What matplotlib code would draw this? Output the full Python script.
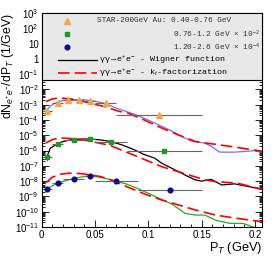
import numpy as np
import matplotlib
matplotlib.use("Agg")
import matplotlib.pyplot as plt
from matplotlib.patches import Rectangle
from matplotlib.ticker import FixedLocator, LogLocator, FuncFormatter, MultipleLocator

plt.rcParams['font.family'] = ['Liberation Sans', 'DejaVu Sans']
plt.rcParams['mathtext.fontset'] = 'custom'
plt.rcParams['mathtext.rm'] = 'Liberation Sans'
plt.rcParams['mathtext.it'] = 'Liberation Sans:italic'
plt.rcParams['mathtext.bf'] = 'Liberation Sans:bold'

# STAR data points, three mass bins (scaled by 1, 1e-2, 1e-4)
pt_lo = [0.005, 0.015, 0.025, 0.035, 0.045, 0.06, 0.11]
pt_lo_err = [0.005, 0.005, 0.005, 0.005, 0.005, 0.01, 0.04]
dn_lo = [4.0e-4, 1.25e-3, 2.0e-3, 2.0e-3, 1.75e-3, 1.4e-3, 2.1e-4]
rel_lo = [0.3, 0.15, 0.1, 0.1, 0.1, 0.12, 0.3]

pt_mid = [0.005, 0.015, 0.03, 0.045, 0.065, 0.115]
pt_mid_err = [0.005, 0.005, 0.01, 0.005, 0.015, 0.035]
dn_mid = [4.0e-7, 2.5e-6, 4.7e-6, 5.8e-6, 3.9e-6, 1.0e-6]
rel_mid = [0.45, 0.15, 0.1, 0.1, 0.12, 0.3]

pt_hi = [0.005, 0.015, 0.03, 0.045, 0.07, 0.12]
pt_hi_err = [0.005, 0.005, 0.01, 0.005, 0.02, 0.03]
dn_hi = [3.1e-9, 7.2e-9, 1.45e-8, 2.3e-8, 1.05e-8, 2.6e-9]
rel_hi = [0.3, 0.2, 0.1, 0.15, 0.15, 0.4]

# Wigner function curves (solid)
wig_lo_x = [0.004, 0.008, 0.012, 0.016, 0.022, 0.030, 0.040, 0.050, 0.060, 0.069, 0.080,
            0.0875, 0.100, 0.1125, 0.122, 0.131, 0.141, 0.153, 0.159, 0.167, 0.181, 0.192,
            0.200, 0.207]
wig_lo_y = [3.9e-4, 8.0e-4, 1.2e-3, 1.6e-3, 2.0e-3, 2.15e-3, 2.1e-3, 1.7e-3, 1.2e-3,
            6.3e-4, 3.5e-4, 2.3e-4, 1.0e-4, 3.9e-5, 1.9e-5, 8.5e-6, 4.0e-6, 3.1e-6, 1.9e-6,
            7.9e-7, 7.9e-7, 8.9e-7, 1.0e-6, 7.6e-7]

wig_mid_x = [0.005, 0.008, 0.0156, 0.022, 0.028, 0.035, 0.045, 0.055, 0.064, 0.075, 0.086,
             0.096, 0.106, 0.1125, 0.125, 0.135, 0.144, 0.150, 0.159, 0.169, 0.181, 0.194,
             0.207]
wig_mid_y = [4.0e-7, 1.4e-6, 3.1e-6, 4.2e-6, 5.1e-6, 5.6e-6, 5.75e-6, 5.0e-6, 4.0e-6,
             2.4e-6, 1.2e-6, 5.6e-7, 3.2e-7, 1.5e-7, 5.5e-8, 2.4e-8, 1.2e-8, 1.0e-8, 1.3e-8,
             5.6e-9, 6.6e-9, 4.4e-9, 2.95e-9]

wig_hi_x = [0.005, 0.010, 0.015, 0.022, 0.030, 0.038, 0.045, 0.055, 0.070, 0.080, 0.089,
            0.100, 0.110, 0.122, 0.1345, 0.144, 0.153, 0.163, 0.177, 0.189, 0.198, 0.203]
wig_hi_y = [3.1e-9, 5.0e-9, 7.2e-9, 1.05e-8, 1.45e-8, 1.9e-8, 2.2e-8, 1.8e-8, 1.0e-8,
            6.3e-9, 3.5e-9, 1.6e-9, 7.6e-10, 3.2e-10, 7.8e-11, 6.0e-11, 6.0e-11, 2.8e-11,
            1.7e-11, 1.7e-11, 1.0e-11, 8.0e-12]

# kt-factorization curves (red dashed)
kt_lo_x = [0.004, 0.010, 0.016, 0.022, 0.028, 0.035, 0.043, 0.050, 0.059, 0.072, 0.081,
           0.097, 0.1125, 0.128, 0.144, 0.152, 0.159, 0.170, 0.181, 0.195, 0.207]
kt_lo_y = [1.6e-3, 2.4e-3, 2.75e-3, 2.6e-3, 2.35e-3, 1.9e-3, 1.4e-3, 1.05e-3, 7.6e-4,
           3.8e-4, 2.8e-4, 9.5e-5, 3.0e-5, 1.07e-5, 4.0e-6, 3.2e-6, 2.8e-6, 2.2e-6, 1.7e-6,
           1.2e-6, 9.1e-7]

kt_mid_x = [0.004, 0.010, 0.017, 0.025, 0.039, 0.050, 0.064, 0.081, 0.097, 0.1125, 0.1376,
            0.153, 0.163, 0.173, 0.184, 0.196, 0.207]
kt_mid_y = [3.1e-6, 5.2e-6, 6.6e-6, 6.3e-6, 5.1e-6, 3.5e-6, 2.2e-6, 7.2e-7, 2.5e-7, 8.9e-8,
            2.6e-8, 1.2e-8, 9.3e-9, 8.3e-9, 7.2e-9, 4.5e-9, 2.8e-9]

kt_hi_x = [0.004, 0.010, 0.017, 0.025, 0.035, 0.045, 0.055, 0.064, 0.081, 0.097, 0.1125,
           0.128, 0.144, 0.163, 0.185, 0.207]
kt_hi_y = [7.9e-9, 1.8e-8, 2.8e-8, 3.3e-8, 3.2e-8, 2.6e-8, 2.0e-8, 1.3e-8, 4.0e-9, 1.4e-9,
           5.8e-10, 2.8e-10, 1.3e-10, 6.0e-11, 3.5e-11, 2.2e-11]

x_ticks = [0, 0.05, 0.1, 0.15, 0.2]
x_tick_labels = ["0", "0.05", "0.1", "0.15", "0.2"]

c_orange = "#f7a548"
c_green_pt = "#1e9a1e"
c_navy = "#0c0c8c"
c_wig_lo = "#7272f2"
c_wig_hi = "#22aa22"
c_red = "#ff0000"
c_bar = "#666666"


def log_label(v, pos):
    e = int(round(np.log10(v)))
    if e == 0:
        return "1"
    if e == 1:
        return "10"
    return r"$\mathregular{10^{%d}}$" % e


fig = plt.figure(figsize=(2.76, 2.67), dpi=100)
ax = fig.add_axes([0.151, 0.150, 0.798, 0.801])
ax.set_yscale("log")
ax.set_xlim(0, 0.2066)
ax.set_ylim(1e-11, 1e3)

dash = (0, (7, 3))
ax.plot(wig_lo_x, wig_lo_y, color=c_wig_lo, lw=0.9, zorder=2)
ax.plot(wig_mid_x, wig_mid_y, color="black", lw=0.9, zorder=2)
ax.plot(wig_hi_x, wig_hi_y, color=c_wig_hi, lw=0.9, zorder=2)
ax.plot(kt_lo_x, kt_lo_y, color=c_red, lw=1.2, ls=dash, zorder=2)
ax.plot(kt_mid_x, kt_mid_y, color=c_red, lw=1.2, ls=dash, zorder=2)
ax.plot(kt_hi_x, kt_hi_y, color=c_red, lw=1.2, ls=dash, zorder=2)

for xs, xe, ys, rel, col, mk, ms in [
        (pt_lo, pt_lo_err, dn_lo, rel_lo, c_orange, "^", 4.5),
        (pt_mid, pt_mid_err, dn_mid, rel_mid, c_green_pt, "s", 2.8),
        (pt_hi, pt_hi_err, dn_hi, rel_hi, c_navy, "o", 3.4)]:
    ys = np.array(ys)
    ye = ys * np.array(rel)
    ax.errorbar(xs, ys, xerr=xe, yerr=ye, fmt="none", ecolor=c_bar, elinewidth=0.8,
                capsize=0, zorder=2.2)
    ax.plot(xs, ys, ls="none", marker=mk, ms=ms, color=col, mec=col, zorder=3)

ax.xaxis.set_major_locator(FixedLocator(x_ticks))
ax.set_xticklabels(x_tick_labels)
ax.xaxis.set_minor_locator(MultipleLocator(0.01))
ax.yaxis.set_major_locator(LogLocator(base=10, numticks=20))
ax.yaxis.set_minor_locator(LogLocator(base=10, subs=np.arange(2, 10), numticks=20))
ax.yaxis.set_major_formatter(FuncFormatter(log_label))
ax.yaxis.set_minor_formatter(FuncFormatter(lambda v, p: ""))
ax.tick_params(which="both", direction="in", top=True, right=True, width=0.6,
               labelsize=7, pad=2)
ax.tick_params(which="major", length=5)
ax.tick_params(which="minor", length=2.5)
for s in ax.spines.values():
    s.set_linewidth(0.8)

ax.set_ylabel(r"dN$_{e^{+}e^{-}}$/dP$_{T}$ (1/GeV)", fontsize=8.8, loc="top")
ax.yaxis.set_label_coords(-0.118, 1.0)
ax.set_xlabel(r"P$_{T}$ (GeV)", fontsize=9.2, loc="right")
ax.xaxis.set_label_coords(1.0, -0.06)

# legend box in the upper part of the frame
leg_bottom = 0.687
ax.add_patch(Rectangle((0, leg_bottom), 1, 1 - leg_bottom, transform=ax.transAxes,
                       facecolor="#e8e8e8", edgecolor="black", lw=0.8, zorder=4,
                       clip_on=False))
mono = ["Liberation Mono", "DejaVu Sans"]
fs = 5.6
tx = 0.251
ax.plot([0.115], [0.963], transform=ax.transAxes, marker="^", ms=4.5, color=c_orange,
        ls="none", zorder=5)
ax.plot([0.115], [0.902], transform=ax.transAxes, marker="s", ms=2.8, color=c_green_pt,
        ls="none", zorder=5)
ax.plot([0.115], [0.841], transform=ax.transAxes, marker="o", ms=3.4, color=c_navy,
        ls="none", zorder=5)
ax.plot([0.074, 0.251], [0.780, 0.780], transform=ax.transAxes, color="black", lw=0.9,
        zorder=5)
ax.plot([0.074, 0.251], [0.720, 0.720], transform=ax.transAxes, color=c_red, lw=1.2,
        ls=dash, zorder=5)
ax.text(tx, 0.963, "STAR-200GeV Au: 0.40-0.76 GeV", transform=ax.transAxes,
        family=mono, fontsize=fs, va="center", color="#333333", zorder=5)
ax.text(0.596, 0.902, r"0.76-1.2 GeV × 10$^{-2}$", transform=ax.transAxes,
        family=mono, fontsize=fs, va="center", color="#333333", zorder=5)
ax.text(0.596, 0.841, r"1.20-2.6 GeV × 10$^{-4}$", transform=ax.transAxes,
        family=mono, fontsize=fs, va="center", color="#333333", zorder=5)
ax.text(tx + 0.008, 0.780, r"$\mathregular{\gamma\gamma\rightarrow e^{+}e^{-}}$ - Wigner function",
        transform=ax.transAxes, family=mono, fontsize=6.0, va="center", zorder=5)
ax.text(tx + 0.008, 0.720, r"$\mathregular{\gamma\gamma\rightarrow e^{+}e^{-}}$ - k$_{t}$-factorization",
        transform=ax.transAxes, family=mono, fontsize=6.0, va="center", zorder=5)

fig.savefig("out.png", dpi=100)
